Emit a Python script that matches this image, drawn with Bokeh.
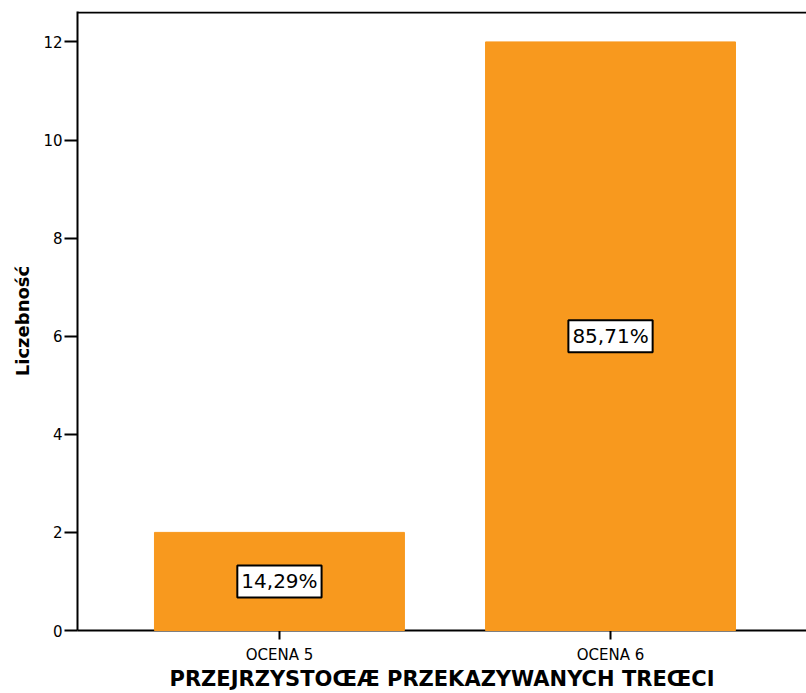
from bokeh.plotting import figure
from bokeh.models import ColumnDataSource, FixedTicker, Span
from bokeh.core.properties import value
from bokeh.embed import file_html
from bokeh.resources import INLINE

categories = ["OCENA 5", "OCENA 6"]
positions = [1, 2]
counts = [2, 12]
pct_labels = ["14,29%", "85,71%"]
y_ticks = [0, 2, 4, 6, 8, 10, 12]

FONT = "DejaVu Sans"

bars = ColumnDataSource(dict(x=positions, top=counts))
lbls = ColumnDataSource(dict(x=positions, y=[c / 2 for c in counts], text=pct_labels))

p = figure(width=806, height=693, output_backend="svg", toolbar_location=None,
           x_range=(0.39, 2.592), y_range=(0, 12.62),
           min_border_left=77, min_border_right=0, min_border_top=11, min_border_bottom=62)
p.outline_line_color = None
p.grid.visible = False
p.background_fill_color = "white"
p.border_fill_color = "white"

p.vbar(x="x", top="top", width=0.755, source=bars, fill_color="#F8991E",
       line_color="#F8991E", line_width=1, level="overlay")

p.text(x="x", y="y", text="text", source=lbls, text_align="center", text_baseline="middle",
       text_font=value(FONT), text_font_size="20px", text_color="black",
       background_fill_color="white", border_line_color="black", border_line_width=2,
       padding=4, level="overlay")

p.add_layout(Span(location=12.6, dimension="width", line_color="black", line_width=2))

p.yaxis.ticker = FixedTicker(ticks=y_ticks)
p.xaxis.ticker = FixedTicker(ticks=positions)
p.xaxis.major_label_overrides = {pos: cat for pos, cat in zip(positions, categories)}

for ax in (p.xaxis, p.yaxis):
    ax.axis_line_color = "black"
    ax.axis_line_width = 2
    ax.major_tick_line_color = "black"
    ax.major_tick_line_width = 2
    ax.major_tick_in = 0
    ax.minor_tick_line_color = None
    ax.major_label_text_font = FONT
    ax.major_label_text_color = "black"
    ax.axis_label_text_font = FONT
    ax.axis_label_text_font_style = "bold"
    ax.axis_label_text_color = "black"

p.yaxis.major_tick_out = 13
p.yaxis.major_label_text_font_size = "15px"
p.yaxis.major_label_standoff = 2
p.yaxis.axis_label = "Liczebność"
p.yaxis.axis_label_text_font_size = "18px"
p.yaxis.axis_label_standoff = 7

p.xaxis.major_tick_out = 9
p.xaxis.major_label_text_font_size = "15px"
p.xaxis.major_label_standoff = 6
p.xaxis.axis_label = "PRZEJRZYSTOŒÆ PRZEKAZYWANYCH TREŒCI"
p.xaxis.axis_label_text_font_size = "21px"
p.xaxis.axis_label_standoff = 0

open("out.html", "w").write(file_html(p, INLINE))
